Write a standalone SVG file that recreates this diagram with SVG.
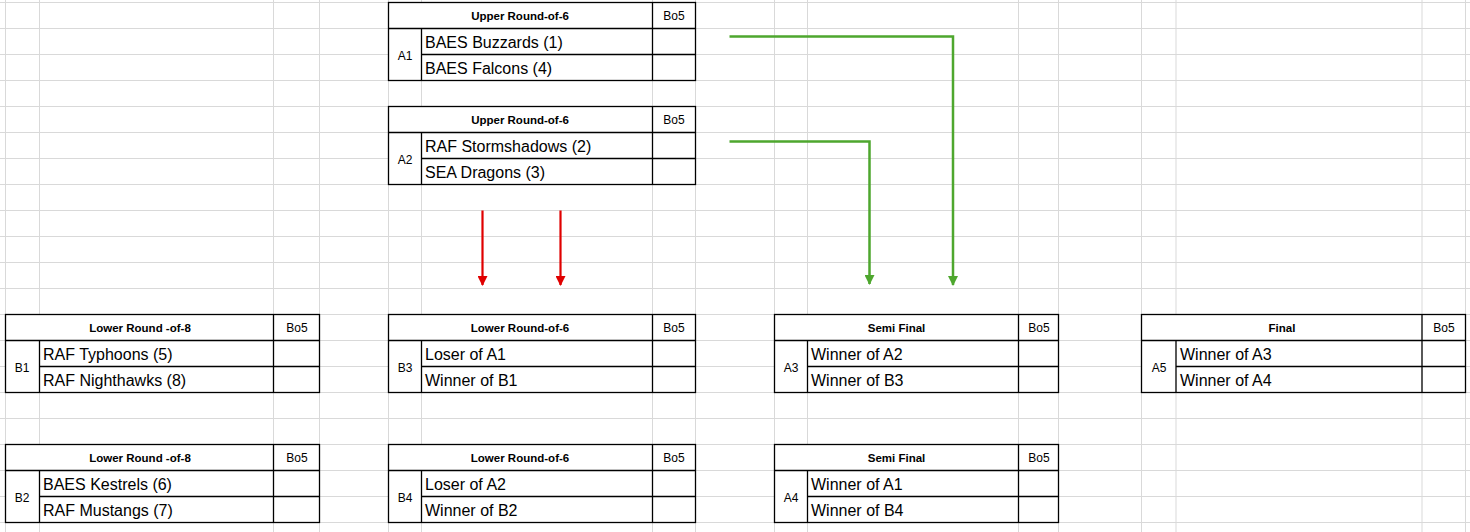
<svg xmlns="http://www.w3.org/2000/svg" width="1470" height="532" viewBox="0 0 1470 532">
<style>
.g{stroke:#d9d9d9;stroke-width:1}
.t{fill:#fff;stroke:#000;stroke-width:1.3}
.l{stroke:#000;stroke-width:1.3}
.h{font-family:"Liberation Sans",Arial,sans-serif;font-size:11.5px;font-weight:bold;text-anchor:middle}
.b{font-family:"Liberation Sans",Arial,sans-serif;font-size:12px;text-anchor:middle}
.n{font-family:"Liberation Sans",Arial,sans-serif;font-size:16px}
.ra{stroke:#e00000;stroke-width:2.2;fill:none}
.ga{stroke:#4ea72e;stroke-width:2.5;fill:none}
</style>
<defs>
<marker id="mr" markerWidth="10" markerHeight="10" refX="5" refY="9" orient="auto" markerUnits="userSpaceOnUse" viewBox="0 0 10 10"><path d="M0,0 L10,0 L5,10 Z" fill="#e00000" transform="rotate(-90 5 5)"/></marker>
<marker id="mg" markerWidth="10" markerHeight="10" refX="9" refY="5" orient="auto" markerUnits="userSpaceOnUse" viewBox="0 0 10 10"><path d="M0,0 L10,5 L0,10 Z" fill="#4ea72e"/></marker>
<marker id="mr2" markerWidth="10" markerHeight="10" refX="9" refY="5" orient="auto" markerUnits="userSpaceOnUse" viewBox="0 0 10 10"><path d="M0,0 L10,5 L0,10 Z" fill="#e00000"/></marker>
</defs>
<rect width="1470" height="532" fill="#fff"/>
<g id="grid" class="g">
<path d="M0,2.5H1470M0,28.5H1470M0,54.5H1470M0,80.5H1470M0,106.5H1470M0,132.5H1470M0,158.5H1470M0,184.5H1470M0,210.5H1470M0,236.5H1470M0,262.5H1470M0,288.5H1470M0,314.5H1470M0,340.5H1470M0,366.5H1470M0,392.5H1470M0,418.5H1470M0,444.5H1470M0,470.5H1470M0,496.5H1470M0,522.5H1470"/>
<path d="M5.5,0V532M39.5,0V532M273.5,0V532M319.5,0V532M388.5,0V532M421.5,0V532M652.5,0V532M695.5,0V532M774.5,0V532M807.5,0V532M1018.5,0V532M1058.5,0V532M1141.5,0V532M1176,0V532M1422,0V532M1465.5,0V532"/>
</g>

<g id="A1">
<rect class="t" x="388.5" y="2.5" width="307" height="78"/>
<path class="l" d="M388.5,28.5H695.5M421.5,54.5H695.5M421.5,28.5V80.5M652.5,2.5V80.5"/>
<text class="h" x="520" y="19.5">Upper Round-of-6</text><text class="b" x="674" y="19.5">Bo5</text>
<text class="b" x="405" y="59.5">A1</text>
<text class="n" x="425" y="47.5">BAES Buzzards (1)</text><text class="n" x="425" y="73.5">BAES Falcons (4)</text>
</g>
<g id="A2">
<rect class="t" x="388.5" y="106.5" width="307" height="78"/>
<path class="l" d="M388.5,132.5H695.5M421.5,158.5H695.5M421.5,132.5V184.5M652.5,106.5V184.5"/>
<text class="h" x="520" y="123.5">Upper Round-of-6</text><text class="b" x="674" y="123.5">Bo5</text>
<text class="b" x="405" y="163.5">A2</text>
<text class="n" x="425" y="151.5">RAF Stormshadows (2)</text><text class="n" x="425" y="177.5">SEA Dragons (3)</text>
</g>
<g id="B1">
<rect class="t" x="5.5" y="314.5" width="314" height="78"/>
<path class="l" d="M5.5,340.5H319.5M39.5,366.5H319.5M39.5,340.5V392.5M273.5,314.5V392.5"/>
<text class="h" x="140" y="331.5">Lower Round -of-8</text><text class="b" x="297" y="331.5">Bo5</text>
<text class="b" x="22" y="371.5">B1</text>
<text class="n" x="43" y="359.5">RAF Typhoons (5)</text><text class="n" x="43" y="385.5">RAF Nighthawks (8)</text>
</g>
<g id="B2">
<rect class="t" x="5.5" y="444.5" width="314" height="78"/>
<path class="l" d="M5.5,470.5H319.5M39.5,496.5H319.5M39.5,470.5V522.5M273.5,444.5V522.5"/>
<text class="h" x="140" y="461.5">Lower Round -of-8</text><text class="b" x="297" y="461.5">Bo5</text>
<text class="b" x="22" y="501.5">B2</text>
<text class="n" x="43" y="489.5">BAES Kestrels (6)</text><text class="n" x="43" y="515.5">RAF Mustangs (7)</text>
</g>
<g id="B3">
<rect class="t" x="388.5" y="314.5" width="307" height="78"/>
<path class="l" d="M388.5,340.5H695.5M421.5,366.5H695.5M421.5,340.5V392.5M652.5,314.5V392.5"/>
<text class="h" x="520" y="331.5">Lower Round-of-6</text><text class="b" x="674" y="331.5">Bo5</text>
<text class="b" x="405" y="371.5">B3</text>
<text class="n" x="425" y="359.5">Loser of A1</text><text class="n" x="425" y="385.5">Winner of B1</text>
</g>
<g id="B4">
<rect class="t" x="388.5" y="444.5" width="307" height="78"/>
<path class="l" d="M388.5,470.5H695.5M421.5,496.5H695.5M421.5,470.5V522.5M652.5,444.5V522.5"/>
<text class="h" x="520" y="461.5">Lower Round-of-6</text><text class="b" x="674" y="461.5">Bo5</text>
<text class="b" x="405" y="501.5">B4</text>
<text class="n" x="425" y="489.5">Loser of A2</text><text class="n" x="425" y="515.5">Winner of B2</text>
</g>
<g id="A3">
<rect class="t" x="774.5" y="314.5" width="284" height="78"/>
<path class="l" d="M774.5,340.5H1058.5M807.5,366.5H1058.5M807.5,340.5V392.5M1018.5,314.5V392.5"/>
<text class="h" x="896.5" y="331.5">Semi Final</text><text class="b" x="1039" y="331.5">Bo5</text>
<text class="b" x="791" y="371.5">A3</text>
<text class="n" x="811" y="359.5">Winner of A2</text><text class="n" x="811" y="385.5">Winner of B3</text>
</g>
<g id="A4">
<rect class="t" x="774.5" y="444.5" width="284" height="78"/>
<path class="l" d="M774.5,470.5H1058.5M807.5,496.5H1058.5M807.5,470.5V522.5M1018.5,444.5V522.5"/>
<text class="h" x="896.5" y="461.5">Semi Final</text><text class="b" x="1039" y="461.5">Bo5</text>
<text class="b" x="791" y="501.5">A4</text>
<text class="n" x="811" y="489.5">Winner of A1</text><text class="n" x="811" y="515.5">Winner of B4</text>
</g>
<g id="A5">
<rect class="t" x="1141.5" y="314.5" width="324" height="78"/>
<path class="l" d="M1141.5,340.5H1465.5M1176,366.5H1465.5M1176,340.5V392.5M1422,314.5V392.5"/>
<text class="h" x="1282" y="331.5">Final</text><text class="b" x="1444" y="331.5">Bo5</text>
<text class="b" x="1159" y="371.5">A5</text>
<text class="n" x="1180" y="359.5">Winner of A3</text><text class="n" x="1180" y="385.5">Winner of A4</text>
</g>

<g id="connectors">
<path class="ra" d="M482.5,210.5V285" marker-end="url(#mr2)"/>
<path class="ra" d="M560.5,210.5V285" marker-end="url(#mr2)"/>
<path class="ga" d="M729.5,36.5H953V285" marker-end="url(#mg)"/>
<path class="ga" d="M729.5,141.5H869.5V284" marker-end="url(#mg)"/>
</g>
</svg>
